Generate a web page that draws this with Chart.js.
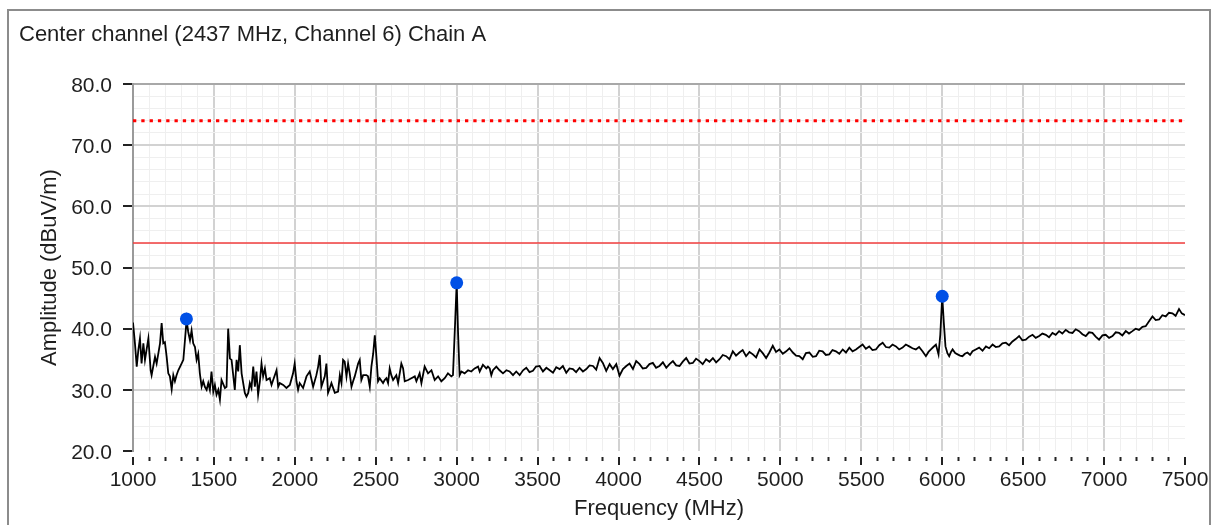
<!DOCTYPE html>
<html>
<head>
<meta charset="utf-8">
<title>Center channel Chain A</title>
<script src="https://cdn.jsdelivr.net/npm/chart.js@4.4.1/dist/chart.umd.min.js"></script>
<style>
  html, body { margin: 0; padding: 0; background: #fff; overflow: hidden; }
  #frame { position: absolute; left: 7px; top: 9px; width: 1204px; height: 600px;
           box-sizing: border-box; border: 2px solid #8c8c8c; }
  #chart { position: absolute; left: 0; top: 0; }
</style>
</head>
<body>
<div id="frame"></div>
<canvas id="chart" width="1214" height="525"></canvas>
<script>
// spectrum trace (MHz / dBuV/m)
const freqMHz = [
  1000, 1012, 1023, 1033, 1043, 1053, 1064, 1074, 1095, 1109, 1115, 1136, 1146, 1167, 1177, 1187,
  1197, 1208, 1218, 1228, 1239, 1249, 1259, 1269, 1280, 1300, 1311, 1321, 1331, 1341, 1352, 1362,
  1372, 1383, 1393, 1403, 1413, 1424, 1434, 1444, 1455, 1465, 1475, 1485, 1496, 1506, 1516, 1527,
  1537, 1547, 1568, 1578, 1588, 1599, 1609, 1629, 1640, 1650, 1660, 1671, 1691, 1701, 1712, 1722,
  1732, 1743, 1753, 1763, 1773, 1784, 1794, 1804, 1815, 1825, 1845, 1856, 1866, 1887, 1897, 1907,
  1928, 1948, 1969, 1989, 1999, 2010, 2020, 2030, 2051, 2072, 2092, 2113, 2133, 2144, 2154, 2164,
  2185, 2195, 2205, 2216, 2226, 2247, 2267, 2278, 2288, 2298, 2308, 2319, 2329, 2339, 2350, 2360,
  2370, 2391, 2401, 2411, 2422, 2442, 2452, 2463, 2473, 2484, 2494, 2504, 2514, 2524, 2545, 2555,
  2566, 2576, 2586, 2596, 2607, 2627, 2638, 2658, 2669, 2679, 2700, 2720, 2741, 2751, 2771, 2782,
  2802, 2823, 2844, 2864, 2885, 2905, 2926, 2946, 2967, 2977, 2990, 3000, 3008, 3018, 3029, 3049,
  3070, 3090, 3111, 3132, 3142, 3162, 3183, 3193, 3204, 3214, 3224, 3245, 3265, 3286, 3307, 3327,
  3348, 3368, 3389, 3410, 3430, 3450, 3471, 3490, 3512, 3533, 3554, 3575, 3595, 3615, 3636, 3656,
  3677, 3697, 3718, 3738, 3759, 3780, 3801, 3821, 3842, 3862, 3883, 3903, 3924, 3945, 3965, 3986,
  4006, 4027, 4048, 4068, 4089, 4109, 4130, 4150, 4171, 4191, 4212, 4232, 4253, 4274, 4295, 4315,
  4336, 4356, 4377, 4397, 4418, 4438, 4459, 4479, 4500, 4520, 4541, 4562, 4583, 4603, 4624, 4644,
  4665, 4685, 4706, 4726, 4747, 4767, 4788, 4809, 4830, 4850, 4871, 4891, 4912, 4932, 4953, 4973,
  4994, 5015, 5036, 5056, 5077, 5097, 5117, 5138, 5158, 5179, 5200, 5220, 5240, 5261, 5281, 5302,
  5322, 5343, 5364, 5385, 5405, 5426, 5446, 5467, 5487, 5508, 5528, 5549, 5569, 5590, 5611, 5632,
  5652, 5673, 5693, 5714, 5734, 5755, 5775, 5796, 5816, 5837, 5857, 5878, 5899, 5915, 5930, 5945,
  5961, 5977, 5988, 6000, 6010, 6020, 6032, 6043, 6054, 6064, 6080, 6095, 6110, 6125, 6140, 6156,
  6172, 6187, 6207, 6228, 6249, 6270, 6290, 6311, 6331, 6352, 6372, 6393, 6413, 6434, 6454, 6475,
  6495, 6516, 6537, 6558, 6578, 6599, 6619, 6640, 6660, 6681, 6701, 6722, 6742, 6763, 6784, 6805,
  6825, 6846, 6866, 6887, 6907, 6928, 6948, 6969, 6990, 7010, 7031, 7052, 7072, 7093, 7113, 7134,
  7154, 7175, 7195, 7216, 7237, 7257, 7278, 7299, 7319, 7340, 7360, 7381, 7401, 7422, 7442, 7463,
  7480, 7494, 7500
];
const amplitude = [
  41.0, 37.6, 33.8, 36.5, 38.4, 34.3, 37.6, 34.9, 38.4, 33.2, 32.4, 35.4, 34.3, 37.6, 40.9, 37.6,
  37.8, 35.4, 32.7, 32.2, 30.1, 32.4, 31.4, 32.4, 33.2, 34.3, 34.9, 38.1, 41.4, 39.5, 38.1, 39.7,
  37.6, 37.0, 34.9, 35.9, 32.7, 30.5, 31.4, 30.5, 30.0, 31.1, 30.0, 33.0, 29.7, 30.8, 29.2, 30.0,
  28.4, 31.6, 30.3, 30.5, 40.0, 35.1, 34.9, 30.0, 34.9, 33.0, 37.3, 32.7, 29.5, 28.9, 29.5, 31.1,
  30.3, 33.8, 30.5, 33.0, 29.2, 31.4, 34.3, 32.2, 33.5, 31.6, 31.9, 30.8, 31.6, 33.2, 30.5, 31.1,
  30.8, 30.3, 30.8, 32.7, 34.3, 31.4, 30.0, 31.1, 30.3, 32.2, 33.0, 30.5, 32.4, 33.8, 35.7, 30.5,
  32.2, 34.3, 29.5, 30.3, 31.1, 29.5, 29.7, 32.4, 31.1, 34.9, 34.6, 32.2, 34.3, 32.7, 30.5, 31.4,
  32.2, 34.3, 34.9, 31.6, 32.4, 32.4, 32.2, 30.5, 33.8, 35.9, 38.9, 35.4, 31.4, 31.9, 31.1, 31.6,
  31.9, 31.1, 33.5, 32.4, 31.6, 32.4, 31.1, 34.3, 33.5, 31.4, 31.6, 31.9, 32.2, 31.4, 32.7, 31.1,
  33.8, 32.7, 33.2, 31.6, 32.2, 31.4, 31.9, 32.7, 32.2, 32.4, 40.8, 47.5, 39.7, 32.4, 33.0, 32.7,
  33.2, 33.0, 33.5, 33.8, 33.0, 34.1, 33.5, 33.8, 33.5, 32.4, 33.2, 33.8, 33.2, 32.7, 33.2, 33.0,
  32.4, 33.0, 32.4, 33.2, 33.6, 32.9, 33.1, 33.8, 33.9, 33.0, 33.6, 33.2, 32.8, 33.7, 33.4, 33.9,
  32.8, 33.5, 33.4, 32.9, 33.6, 33.0, 33.4, 34.0, 33.9, 33.3, 35.2, 34.4, 33.1, 34.2, 33.4, 34.2,
  32.3, 33.4, 33.9, 34.3, 33.4, 34.7, 34.2, 33.5, 33.6, 34.2, 34.4, 33.6, 33.9, 34.5, 33.6, 34.2,
  34.7, 34.0, 33.9, 34.6, 35.2, 34.3, 34.4, 35.1, 34.7, 34.2, 35.0, 34.6, 35.2, 34.5, 35.0, 35.7,
  35.5, 35.0, 36.3, 35.6, 36.1, 36.5, 35.5, 36.2, 35.8, 35.3, 36.6, 36.0, 35.2, 36.1, 37.2, 36.2,
  36.6, 35.9, 36.3, 36.8, 36.1, 35.6, 35.5, 35.0, 36.0, 36.1, 35.4, 35.5, 36.4, 36.3, 35.7, 35.8,
  36.5, 36.3, 35.9, 36.6, 36.1, 36.9, 36.3, 36.6, 37.0, 37.4, 36.7, 37.1, 36.5, 36.6, 37.3, 37.7,
  37.0, 36.9, 37.4, 37.1, 36.6, 36.9, 37.4, 37.1, 36.8, 36.6, 37.0, 36.3, 35.5, 36.2, 36.6, 37.0,
  37.4, 35.8, 39.0, 45.3, 40.9, 37.1, 36.0, 35.5, 36.2, 36.6, 36.0, 35.8, 35.6, 35.5, 35.9, 36.1,
  35.7, 36.3, 36.6, 36.9, 36.4, 37.1, 36.8, 37.4, 37.0, 37.1, 37.6, 37.7, 37.3, 37.9, 38.3, 38.8,
  38.1, 38.2, 38.7, 39.0, 38.5, 38.8, 39.2, 39.0, 38.6, 39.3, 39.0, 39.6, 39.2, 39.8, 39.4, 39.3,
  39.9, 39.6, 39.1, 38.8, 39.4, 39.3, 38.7, 38.2, 38.9, 39.0, 38.5, 38.8, 39.4, 39.3, 38.9, 39.6,
  39.2, 39.6, 40.0, 39.8, 40.3, 40.4, 41.2, 42.0, 41.4, 41.5, 42.2, 42.0, 42.6, 42.5, 42.1, 43.2,
  42.5, 42.3, 42.2
];
// marked peaks
const peakFreq = [1330, 3000, 6000];
const peakAmp = [41.6, 47.5, 45.3];
// limit lines
const limitFreq = [1000, 7500];
const peakLimit = 74;
const avgLimit = 54;

const FONT = '"Liberation Sans", Arial, sans-serif';
const TEXT = '#1e1e1e';

const tracePts = freqMHz.map((f, i) => ({ x: f, y: amplitude[i] }));
const peakPts = peakFreq.map((f, i) => ({ x: f, y: peakAmp[i] }));
const peakLine = limitFreq.map(f => ({ x: f, y: peakLimit }));
const avgLine = limitFreq.map(f => ({ x: f, y: avgLimit }));

const titlePlugin = {
  id: 'boxTitle',
  afterDraw(chart) {
    const ctx = chart.ctx;
    ctx.save();
    ctx.font = '22px ' + FONT;
    ctx.fillStyle = TEXT;
    ctx.textBaseline = 'alphabetic';
    ctx.fillText('Center channel (2437 MHz, Channel 6) Chain A', 19, 40.5);
    ctx.restore();
  }
};

new Chart(document.getElementById('chart').getContext('2d'), {
  type: 'line',
  data: {
    datasets: [
      { data: peakPts, showLine: false, pointRadius: 6.5, pointBackgroundColor: '#0050e6',
        pointBorderColor: '#0050e6', pointBorderWidth: 0 },
      { data: tracePts, borderColor: '#000', borderWidth: 1.8, pointRadius: 0, tension: 0 },
      { data: peakLine, borderColor: '#ff0000', borderWidth: 3, borderDash: [3.3, 5], pointRadius: 0 },
      { data: avgLine, borderColor: '#f03c3c', borderWidth: 1.5, pointRadius: 0 }
    ]
  },
  options: {
    responsive: false,
    animation: false,
    layout: { padding: { top: 84, right: 29, left: 0, bottom: 0 } },
    plugins: { legend: { display: false }, tooltip: { enabled: false } },
    scales: {
      x: {
        type: 'linear',
        min: 1000,
        max: 7500,
        afterFit(scale) { scale.height = 74; },
        border: { display: false },
        grid: {
          color: c => {
            const v = c.tick.value;
            if (v === 7500) return 'rgba(0,0,0,0)';
            return v % 500 === 0 ? '#d2d2d2' : '#efefef';
          },
          lineWidth: c => (c.tick.value % 500 === 0 ? 2 : 1),
          tickLength: 15,
          tickColor: '#222',
          tickWidth: 2,
          tickBorderDash: c => (c.tick.value % 500 === 0 ? [0, 6, 8, 40] : [0, 6, 4, 40])
        },
        ticks: {
          stepSize: 100,
          autoSkip: false,
          maxRotation: 0,
          padding: 2,
          color: TEXT,
          font: { family: FONT, size: 21 },
          callback: v => (v % 500 === 0 ? String(v) : '')
        },
        title: {
          display: true,
          text: 'Frequency (MHz)',
          color: TEXT,
          font: { family: FONT, size: 22 },
          padding: { top: 0, bottom: 3 }
        }
      },
      y: {
        min: 20,
        max: 80,
        afterFit(scale) { scale.width = 133; },
        border: { display: true, color: '#9a9a9a', width: 2 },
        grid: {
          color: c => {
            const v = Math.round(c.tick.value);
            if (v === 20) return 'rgba(0,0,0,0)';
            if (v === 80) return '#a8a8a8';
            return v % 10 === 0 ? '#d2d2d2' : '#efefef';
          },
          lineWidth: c => (Math.round(c.tick.value) % 10 === 0 ? 2 : 1),
          tickLength: 15,
          tickWidth: 2,
          tickColor: c => (Math.round(c.tick.value) % 10 === 0 ? '#222' : 'rgba(0,0,0,0)'),
          tickBorderDash: [0, 5, 9, 40]
        },
        ticks: {
          stepSize: 2,
          autoSkip: false,
          padding: 6,
          labelOffset: 2,
          color: TEXT,
          font: { family: FONT, size: 21 },
          callback: v => (Math.round(v) % 10 === 0 ? Number(v).toFixed(1) : '')
        },
        title: {
          display: true,
          text: 'Amplitude (dBuV/m)',
          color: TEXT,
          font: { family: FONT, size: 22 },
          padding: { top: 37, bottom: 0 }
        }
      }
    }
  },
  plugins: [titlePlugin]
});
</script>
</body>
</html>
